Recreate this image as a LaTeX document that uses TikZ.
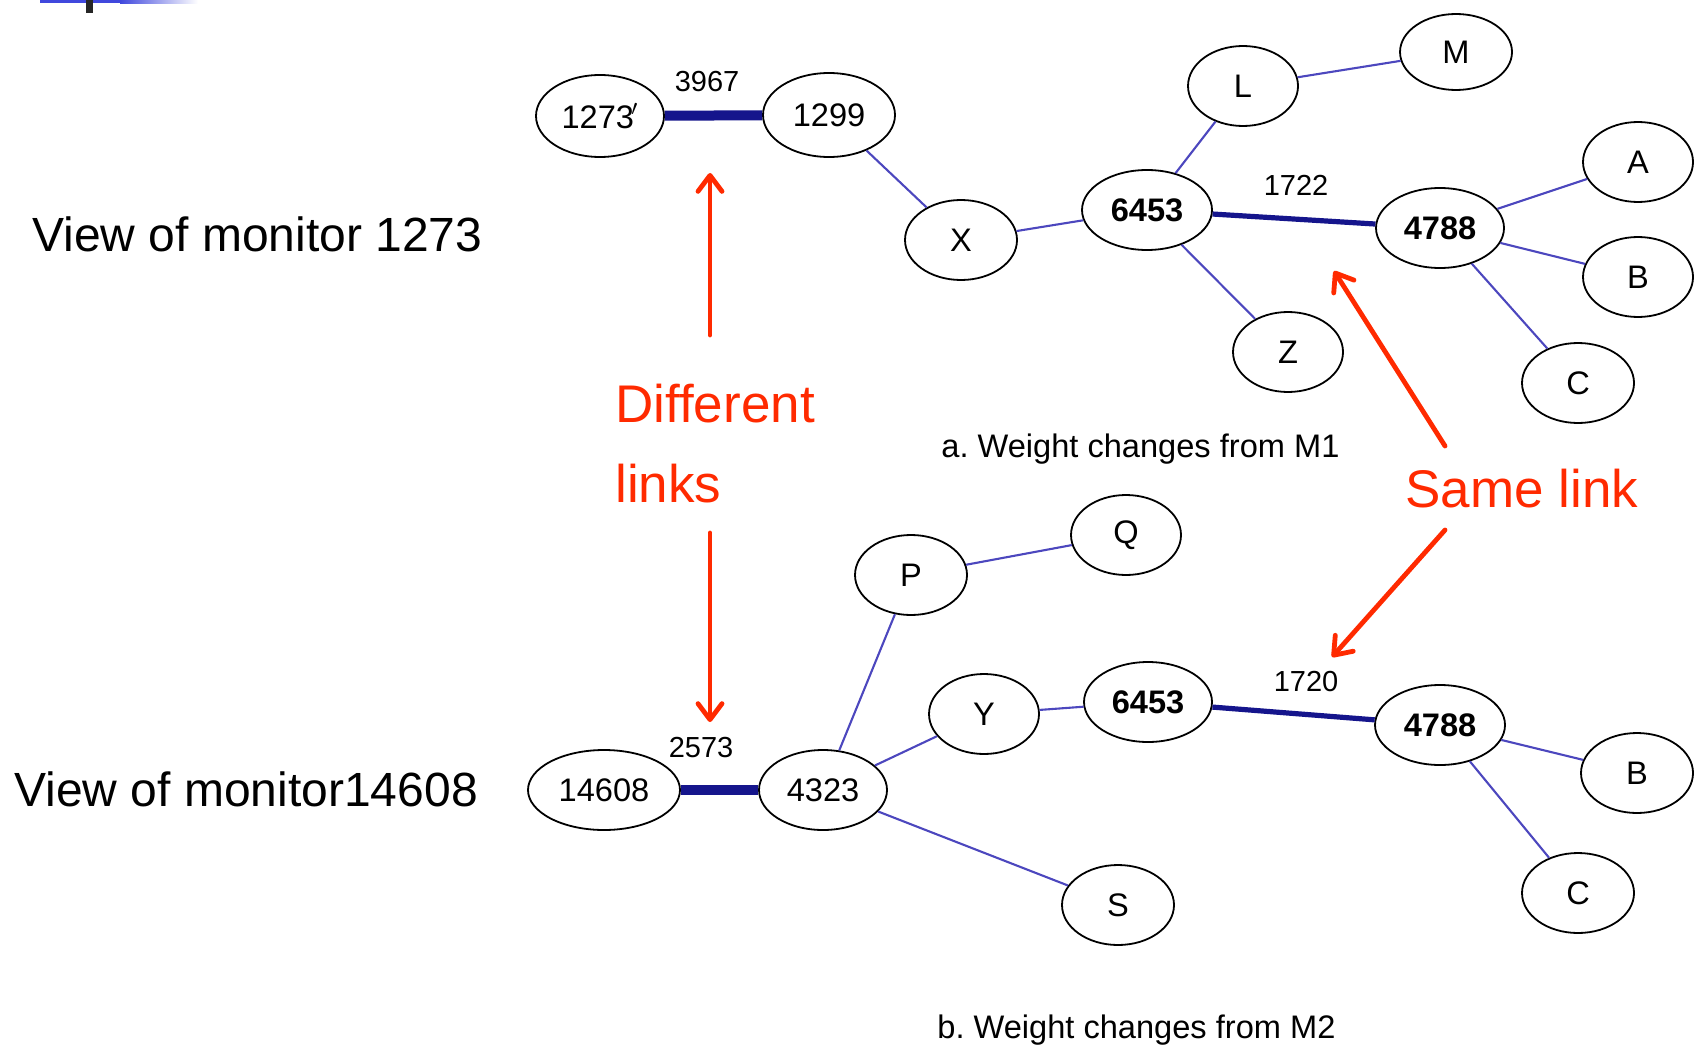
\documentclass[tikz,border=0pt]{standalone}
\usepackage{fontspec}
\setmainfont{Liberation Sans}
\usetikzlibrary{shapes.geometric,arrows.meta}
\definecolor{thinedge}{HTML}{4C47BE}
\definecolor{thickedge}{HTML}{15158C}
\definecolor{redc}{HTML}{FF2A00}
\definecolor{barblue}{HTML}{4048DD}
\frenchspacing
\begin{document}
\begin{tikzpicture}[x=0.5pt,y=-0.5pt,
  nd/.style={ellipse, draw=black, line width=0.9pt, inner sep=0pt, fill=white,
    font=\fontsize{16.3}{16.3}\selectfont},
  bnd/.style={nd, font=\fontsize{16.3}{16.3}\selectfont\bfseries},
  thinlink/.style={draw=thinedge, line width=1.05pt},
  thicklink/.style={draw=thickedge, line width=5pt},
  medlink/.style={draw=thickedge, line width=2.6pt},
  elabel/.style={font=\fontsize{14.5}{14.5}\selectfont, inner sep=0pt},
  caption/.style={font=\fontsize{16.3}{16.3}\selectfont, inner sep=0pt, anchor=base west},
  viewlabel/.style={font=\fontsize{24}{24}\selectfont, inner sep=0pt, anchor=base west},
  redlabel/.style={font=\fontsize{26.5}{26.5}\selectfont, text=redc, inner sep=0pt, anchor=base west},
  redarrow/.style={draw=redc, line width=2.4pt, line cap=round,
    -{Straight Barb[length=8pt,width=12pt,line cap=round,line join=round]}}
]
\useasboundingbox (0,0) rectangle (1695,1048);
% header decoration
\fill[barblue] (40,0) rectangle (120,3.5);
\shade[left color=barblue, right color=white] (120,0) rectangle (198,3.5);
\fill[black!85] (86,0) rectangle (93,13);

% ---------- top graph ----------
\node[nd, minimum width=64pt, minimum height=41pt] (a1273) at (600,116) {1273\kern-0.08em$^{\prime}$};
\node[nd, minimum width=66pt, minimum height=42pt] (a1299) at (829,115) {1299};
\node[nd, minimum width=56pt, minimum height=40pt] (aX) at (961,240) {X};
\node[bnd, minimum width=65pt, minimum height=40pt] (a6453) at (1147,210) {6453};
\node[nd, minimum width=55pt, minimum height=40pt] (aL) at (1243,86) {L};
\node[nd, minimum width=56pt, minimum height=38pt] (aM) at (1456,52) {M};
\node[bnd, minimum width=64pt, minimum height=40pt] (a4788) at (1440,228) {4788};
\node[nd, minimum width=55pt, minimum height=40pt] (aA) at (1638,162) {A};
\node[nd, minimum width=55pt, minimum height=40pt] (aB) at (1638,277) {B};
\node[nd, minimum width=55pt, minimum height=40pt] (aZ) at (1288,352) {Z};
\node[nd, minimum width=56pt, minimum height=40pt] (aC) at (1578,383) {C};

\draw[thicklink] (a1273) -- (a1299);
\draw[thinlink] (a1299) -- (aX);
\draw[thinlink] (aX) -- (a6453);
\draw[thinlink] (a6453) -- (aL);
\draw[thinlink] (aL) -- (aM);
\draw[thinlink] (a6453) -- (aZ);
\draw[medlink] (a6453) -- (a4788);
\draw[thinlink] (a4788) -- (aA);
\draw[thinlink] (a4788) -- (aB);
\draw[thinlink] (a4788) -- (aC);
\node[elabel] (w3967) at (707,82) {3967};
\node[elabel] (w1722) at (1296,185) {1722};
\node[caption] (capa) at (941,457) {a. Weight changes from M1};

% ---------- bottom graph ----------
\node[nd, minimum width=76pt, minimum height=40pt] (b14608) at (604,790) {14608};
\node[nd, minimum width=64pt, minimum height=40pt] (b4323) at (823,790) {4323};
\node[nd, minimum width=56pt, minimum height=40pt] (bP) at (911,575) {P};
\node[nd, minimum width=55pt, minimum height=40pt] (bQ) at (1126,535) {Q};
\node[nd, minimum width=55pt, minimum height=40pt] (bY) at (984,714) {Y};
\node[bnd, minimum width=64pt, minimum height=40pt] (b6453) at (1148,702) {6453};
\node[nd, minimum width=56pt, minimum height=40pt] (bS) at (1118,905) {S};
\node[bnd, minimum width=65pt, minimum height=40pt] (b4788) at (1440,725) {4788};
\node[nd, minimum width=56pt, minimum height=40pt] (bB) at (1637,773) {B};
\node[nd, minimum width=56pt, minimum height=40pt] (bC) at (1578,893) {C};

\draw[thicklink] (b14608) -- (b4323);
\draw[thinlink] (b4323) -- (bP);
\draw[thinlink] (bP) -- (bQ);
\draw[thinlink] (b4323) -- (bY);
\draw[thinlink] (bY) -- (b6453);
\draw[thinlink] (b4323) -- (bS);
\draw[medlink] (b6453) -- (b4788);
\draw[thinlink] (b4788) -- (bB);
\draw[thinlink] (b4788) -- (bC);
\node[elabel] (w2573) at (701,748) {2573};
\node[elabel] (w1720) at (1306,682) {1720};
\node[caption] (capb) at (937,1038) {b. Weight changes from M2};

% ---------- left labels ----------
\node[viewlabel] (view1) at (32,251) {View of monitor 1273};
\node[viewlabel] (view2) at (14,806) {View of monitor14608};

% ---------- red annotations ----------
\node[redlabel] (diff1) at (615,422) {Different};
\node[redlabel] (diff2) at (615,502) {links};
\node[redlabel] (same) at (1405,507) {Same link};

\coordinate (t1) at (710,335);
\coordinate (h1) at (710,173);
\coordinate (t2) at (710,533);
\coordinate (h2) at (710,722);
\coordinate (t3) at (1445,446);
\coordinate (h3) at (1334,271);
\coordinate (t4) at (1445,530);
\coordinate (h4) at (1332,657);
\draw[redarrow] (t1) -- (h1);
\draw[redarrow] (t2) -- (h2);
\draw[redarrow] (t3) -- (h3);
\draw[redarrow] (t4) -- (h4);
\end{tikzpicture}
\end{document}
